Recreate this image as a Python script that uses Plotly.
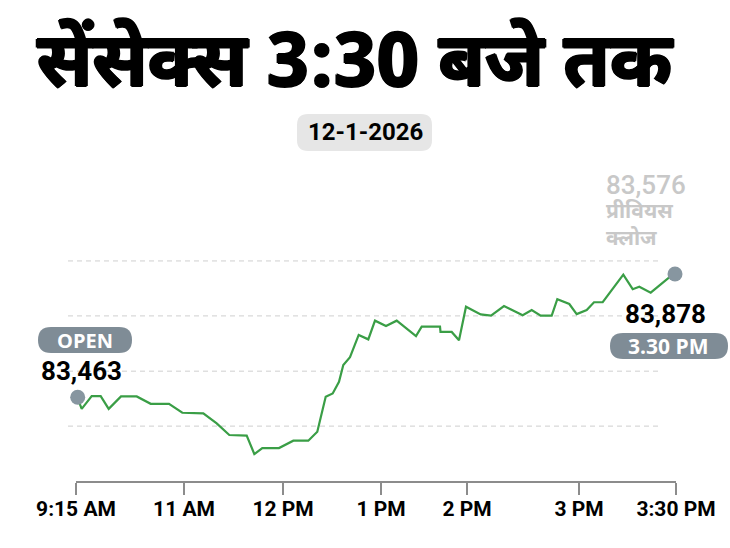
import plotly.graph_objects as go

# ---- data ----
# x: position along the trading session (0 = 9:15 AM, 600 = 3:30 PM)
pos = [3.3, 5.7, 15.7, 24.7, 32.7, 45, 60.7, 74.7, 93, 106.3, 127.3, 140.7, 153.3,
       170.7, 178.3, 186.3, 203, 217.3, 232.3, 241.3, 249.7, 256.7, 263, 267.3, 274,
       282.7, 292.3, 299, 310, 320.7, 340, 345.7, 364, 364.5, 375.7, 383, 390,
       404.7, 415, 428, 446.7, 455.7, 464.7, 475.7, 481.3, 493.3, 500.7, 510.7, 518,
       526.7, 547.3, 556.7, 563.3, 574.7, 592.3, 599]
sensex = [83445, 83424, 83467, 83467, 83424, 83466, 83466, 83441, 83441, 83411, 83409,
          83375, 83336, 83334, 83272, 83292, 83292, 83317, 83317, 83347, 83465, 83476,
          83515, 83572, 83598, 83673, 83658, 83721, 83703, 83721, 83669, 83701, 83701,
          83683, 83683, 83655, 83768, 83742, 83738, 83770, 83739, 83757, 83738, 83738,
          83793, 83777, 83743, 83757, 83783, 83783, 83876, 83827, 83835, 83815, 83864,
          83878]
open_pos, open_val = 1.7, 83463
close_pos, close_val = 599, 83878
prev_close = 83576

tick_pos = [0, 108, 207, 305, 391, 503, 600]
tick_text = ["9:15 AM", "11 AM", "12 PM", "1 PM", "2 PM", "3 PM", "3:30 PM"]
grid_vals = [83366, 83551, 83737, 83922]

title = "सेंसेक्स 3:30 बजे तक"
date_text = "12-1-2026"
prev_label = ["प्रीवियस", "क्लोज"]

W, H = 730, 548
COND = "Roboto, Liberation Sans, sans-serif"
DEVA = "Noto Sans Devanagari, Noto Sans, Lohit Devanagari, sans-serif"
WIDE = "Open Sans, Lato, sans-serif"
BADGE = "#7f8c96"


def px(x):
    return x / W


def py(y):
    return 1 - y / H


def pill(x0, y0, x1, y1, r, color):
    # rounded rectangle in paper coordinates, given in pixels
    def P(x, y):
        return f"{px(x):.5f},{py(y):.5f}"
    path = (f"M {P(x0 + r, y0)} L {P(x1 - r, y0)} Q {P(x1, y0)} {P(x1, y0 + r)} "
            f"L {P(x1, y1 - r)} Q {P(x1, y1)} {P(x1 - r, y1)} L {P(x0 + r, y1)} "
            f"Q {P(x0, y1)} {P(x0, y1 - r)} L {P(x0, y0 + r)} Q {P(x0, y0)} {P(x0 + r, y0)} Z")
    return dict(type="path", xref="paper", yref="paper", path=path,
                fillcolor=color, line=dict(width=0), layer="below")


fig = go.Figure()
fig.add_trace(go.Scatter(x=pos, y=sensex, mode="lines",
                         line=dict(color="#3a9e46", width=2.2), hoverinfo="skip"))
fig.add_trace(go.Scatter(x=[open_pos, close_pos], y=[open_val, close_val], mode="markers",
                         marker=dict(size=15, color="#8796a0"), cliponaxis=False,
                         hoverinfo="skip"))

shapes = []
for g in grid_vals:
    shapes.append(dict(type="line", xref="x", yref="y", x0=-8, x1=586, y0=g, y1=g,
                       line=dict(color="#cfcfcf", width=1, dash="5px,4px"), layer="below"))
shapes.append(dict(type="line", xref="x", yref="paper", x0=0, x1=600,
                   y0=py(482), y1=py(482), line=dict(color="#8c8c8c", width=2)))
shapes.append(pill(297, 114, 432, 151, 11, "#e6e6e6"))
shapes.append(pill(38, 327, 132, 353, 13, BADGE))
shapes.append(pill(610, 333, 728, 359, 13, BADGE))

thick = "1.2px 0 0 #000, -1.2px 0 0 #000, 0 1px 0 #000, 0 -1px 0 #000"
ann = []
ann.append(dict(text=f"<b>{title}</b>", x=px(355), y=py(68), xref="paper", yref="paper",
                showarrow=False, xanchor="center", yanchor="middle",
                font=dict(family=DEVA, size=75, color="#000", weight=900, shadow=thick)))
ann.append(dict(text=f"<b>{date_text}</b>", x=px(365), y=py(132), xref="paper", yref="paper",
                showarrow=False, xanchor="center", yanchor="middle",
                font=dict(family=COND, size=24, color="#000")))
ann.append(dict(text=f"{prev_close:,}", x=px(604), y=py(185), xref="paper", yref="paper",
                showarrow=False, xanchor="left", yanchor="middle",
                font=dict(family=COND, size=26, color="#c8c8c8", weight=500)))
ann.append(dict(text=f"<b>{prev_label[0]}</b><br><b>{prev_label[1]}</b>",
                x=px(604), y=py(227), xref="paper", yref="paper", align="left",
                showarrow=False, xanchor="left", yanchor="middle",
                font=dict(family=DEVA, size=21, color="#c8c8c8")))
ann.append(dict(text="<b>OPEN</b>", x=px(85), y=py(340), xref="paper", yref="paper",
                showarrow=False, xanchor="center", yanchor="middle",
                font=dict(family=WIDE, size=20, color="#fff", weight=800)))
ann.append(dict(text=f"<b>{open_val:,}</b>", x=px(81), y=py(371), xref="paper", yref="paper",
                showarrow=False, xanchor="center", yanchor="middle",
                font=dict(family=COND, size=26, color="#000")))
ann.append(dict(text=f"<b>{close_val:,}</b>", x=px(665), y=py(314), xref="paper", yref="paper",
                showarrow=False, xanchor="center", yanchor="middle",
                font=dict(family=COND, size=26, color="#000")))
ann.append(dict(text="<b>3.30 PM</b>", x=px(668), y=py(346), xref="paper", yref="paper",
                showarrow=False, xanchor="center", yanchor="middle",
                font=dict(family=WIDE, size=21, color="#fff", weight=800)))

fig.update_layout(
    width=W, height=H, margin=dict(l=0, r=0, t=0, b=0),
    paper_bgcolor="white", plot_bgcolor="white", showlegend=False,
    shapes=shapes, annotations=ann,
    xaxis=dict(range=[-76, 654], domain=[0, 1], anchor="free", position=py(482),
               tickvals=tick_pos, ticktext=tick_text, ticks="outside", ticklen=12,
               tickwidth=2, tickcolor="#8c8c8c", showgrid=False, zeroline=False,
               showline=False, fixedrange=True, ticklabelstandoff=-4,
               tickfont=dict(family=COND, size=21, color="#000", weight=700)),
    yaxis=dict(range=[83463 - 150.7 * 3.366, 83463 + 397.3 * 3.366], domain=[0, 1],
               visible=False, fixedrange=True),
)
fig.write_html("out.html", post_script="document.body.style.margin='0';",
               config={"displayModeBar": False})
